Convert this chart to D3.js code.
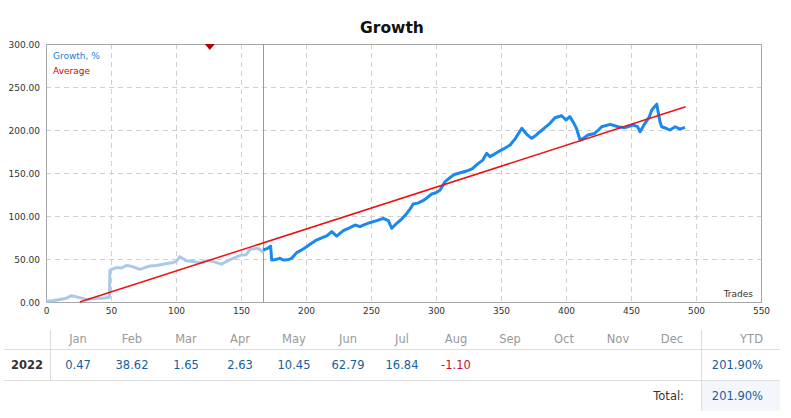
<!DOCTYPE html>
<html><head><meta charset="utf-8">
<script src="https://cdn.jsdelivr.net/npm/d3@7"></script>
<style>body{margin:0;background:#fff}svg{display:block;font-family:"DejaVu Sans",sans-serif}</style>
</head><body><svg id="c" width="791" height="418"></svg>
<script>
// ---- data ----
const historyTrades = [0,5,10.8,15,19.7,22,25,31,35,39,44,48.7,49.2,54,58,62,67,72,76,80,85,90,96.7,100,103,108,113,118.5,124,128.7,135,140,144,150.5,154,157,163,166.7,167];
const historyGrowth = [1,1.5,3,4,7.3,6.5,5.4,3,3.5,4.3,4.5,5.4,37,40,39.5,42.6,41,38,40,41.9,42.5,44,45.7,47,52.7,48,47,45.7,48,47,44,48,50.8,54.7,55,61.2,62.4,58.5,60.5];
const liveTrades = [167,170,172.8,173.6,177,180,182.5,186,189,192.8,196,200.5,204,208,213,216,219.8,223.6,228.7,233,237.7,241.5,245,249,254.4,259.5,263.3,266,269.8,274,277.5,280,282.5,286,290,293,296.7,300,303,307,311,314.6,318,323.6,328,332.6,336,339,341.5,345,348,352,357,361,366,369.8,373.6,377,380,384,387.7,391.5,396.7,400,403,406,408,410.8,414,417,422,425,427.4,434,440,445.4,451.8,455,457,460.8,464,466,469.8,472.3,473.6,477,480,484,487.7,491.5];
const liveGrowth = [60.5,62,65,48.8,49.5,50.8,48.8,49,50.8,57.4,60,64.3,68,72,75.2,77,81.8,76.7,83,86,89.5,87.6,90,92.2,94.6,97.3,94.6,85.7,91.5,97,103,108,114,115,117.8,121,125.6,127,130,140,145,148.5,150,152.3,155,161.2,165,173,169,172,174.8,178,182.6,190,202,195,190.3,194,198,203,207.8,214.3,216.6,211.6,215.5,208,202,188.4,191,194.2,196,200,203.8,206.6,203.8,202.7,205.8,204,198,207.8,215,223.3,230,209.6,203.8,202,200,203.8,201,203];
const averageTrades = [26, 492];
const averageGrowth = [0, 227];
const splitTrade = 167;
const markerTrade = 126;
const xTicks = [0,50,100,150,200,250,300,350,400,450,500,550];
const yTicks = [0,50,100,150,200,250,300];
const months = ["Jan","Feb","Mar","Apr","May","Jun","Jul","Aug","Sep","Oct","Nov","Dec"];
const monthValues = [0.47,38.62,1.65,2.63,10.45,62.79,16.84,-1.10,null,null,null,null];
const year = "2022";
const ytd = 201.90;
const total = 201.90;

// ---- drawing ----
const svg = d3.select("#c");
const x = d3.scaleLinear().domain([0,550]).range([46,761]);
const y = d3.scaleLinear().domain([0,300]).range([302,44]);
const fmt = d3.formatLocale({decimal:".",thousands:",",grouping:[3],currency:["",""],minus:"-"}).format(".2f");

svg.append("text").attr("x",392).attr("y",33).attr("text-anchor","middle")
  .attr("font-size",15.5).attr("font-weight","bold").attr("fill","#111").text("Growth");

// grid
const grid = svg.append("g").attr("stroke","#d0d0d0").attr("stroke-dasharray","5,4").attr("stroke-width",1);
xTicks.filter(t=>t>0&&t<550).forEach(t=>grid.append("line").attr("x1",Math.round(x(t))+0.5).attr("x2",Math.round(x(t))+0.5).attr("y1",y(300)).attr("y2",y(0)));
yTicks.filter(t=>t>0&&t<300).forEach(t=>grid.append("line").attr("y1",Math.round(y(t))+0.5).attr("y2",Math.round(y(t))+0.5).attr("x1",x(0)).attr("x2",x(550)));

// axes
const xAxis = svg.append("g").attr("transform","translate(0,302)")
  .call(d3.axisBottom(x).tickValues(xTicks).tickSize(0).tickPadding(6));
xAxis.select(".domain").remove();
xAxis.selectAll("text").attr("font-family","DejaVu Sans").attr("font-size",9).attr("fill","#333");
const yAxis = svg.append("g").attr("transform","translate(46,0)")
  .call(d3.axisLeft(y).tickValues(yTicks).tickSize(0).tickPadding(6).tickFormat(fmt));
yAxis.select(".domain").remove();
yAxis.selectAll("text").attr("font-family","DejaVu Sans").attr("font-size",9).attr("fill","#333").attr("dy","0.35em");

// frame
svg.append("rect").attr("x",x(0)+0.5).attr("y",y(300)+0.5).attr("width",x(550)-x(0)).attr("height",y(0)-y(300))
  .attr("fill","none").attr("stroke","#a8a8a8");

// split line
svg.append("line").attr("x1",Math.round(x(splitTrade))+0.5).attr("x2",Math.round(x(splitTrade))+0.5)
  .attr("y1",y(300)).attr("y2",y(0)).attr("stroke","#9a9a9a");

const line = d3.line().x(d=>x(d[0])).y(d=>y(d[1]));
svg.append("path").datum(d3.zip(historyTrades,historyGrowth)).attr("d",line)
  .attr("fill","none").attr("stroke","#aac9e9").attr("stroke-width",3).attr("stroke-linejoin","round");
svg.append("path").datum(d3.zip(liveTrades,liveGrowth)).attr("d",line)
  .attr("fill","none").attr("stroke","#1a88ee").attr("stroke-width",3).attr("stroke-linejoin","round");
svg.append("path").datum(d3.zip(averageTrades,averageGrowth)).attr("d",line)
  .attr("fill","none").attr("stroke","#ee1111").attr("stroke-width",1.5);

// marker
const mx = x(markerTrade), my = y(300);
svg.append("path").attr("d",`M${mx-5},${my}L${mx+5},${my}L${mx},${my+6}Z`).attr("fill","#b00000");

// legend
svg.append("text").attr("x",53).attr("y",59).attr("font-size",9).attr("fill","#1a7fe0").text("Growth, %");
svg.append("text").attr("x",53).attr("y",74).attr("font-size",9).attr("fill","#dd0000").text("Average");
svg.append("text").attr("x",753).attr("y",297).attr("text-anchor","end").attr("font-size",9).attr("fill","#333").text("Trades");

// table
const mxs = d3.scalePoint().domain(months).range([78,672]);
svg.append("rect").attr("x",702).attr("y",381).attr("width",78).attr("height",30).attr("fill","#f3f6fb");
const tl = svg.append("g").attr("stroke","#dddddd");
tl.append("line").attr("x1",4).attr("x2",780).attr("y1",349.5).attr("y2",349.5);
tl.append("line").attr("x1",4).attr("x2",780).attr("y1",380.5).attr("y2",380.5);
tl.append("line").attr("x1",50.5).attr("x2",50.5).attr("y1",330).attr("y2",380);
tl.append("line").attr("x1",701.5).attr("x2",701.5).attr("y1",330).attr("y2",411);

svg.append("g").selectAll("text").data(months).join("text")
  .attr("x",d=>mxs(d)).attr("y",343).attr("text-anchor","middle").attr("font-size",11.5).attr("fill","#999").text(d=>d);
svg.append("text").attr("x",763).attr("y",343).attr("text-anchor","end").attr("font-size",11.5).attr("fill","#999").text("YTD");
svg.append("text").attr("x",27).attr("y",369).attr("text-anchor","middle").attr("font-size",11.5).attr("font-weight","bold").attr("fill","#333").text(year);
svg.append("g").selectAll("text").data(months.map((m,i)=>[m,monthValues[i]]).filter(d=>d[1]!==null)).join("text")
  .attr("x",d=>mxs(d[0])).attr("y",369).attr("text-anchor","middle").attr("font-size",11.5)
  .attr("fill",d=>d[1]<0?"#c8102e":"#15609f").text(d=>fmt(d[1]));
svg.append("text").attr("x",763).attr("y",369).attr("text-anchor","end").attr("font-size",11.5).attr("fill","#15609f").text(fmt(ytd)+"%");
svg.append("text").attr("x",684).attr("y",400).attr("text-anchor","end").attr("font-size",11.5).attr("fill","#333").text("Total:");
svg.append("text").attr("x",763).attr("y",400).attr("text-anchor","end").attr("font-size",11.5).attr("fill","#15609f").text(fmt(total)+"%");
</script></body></html>
